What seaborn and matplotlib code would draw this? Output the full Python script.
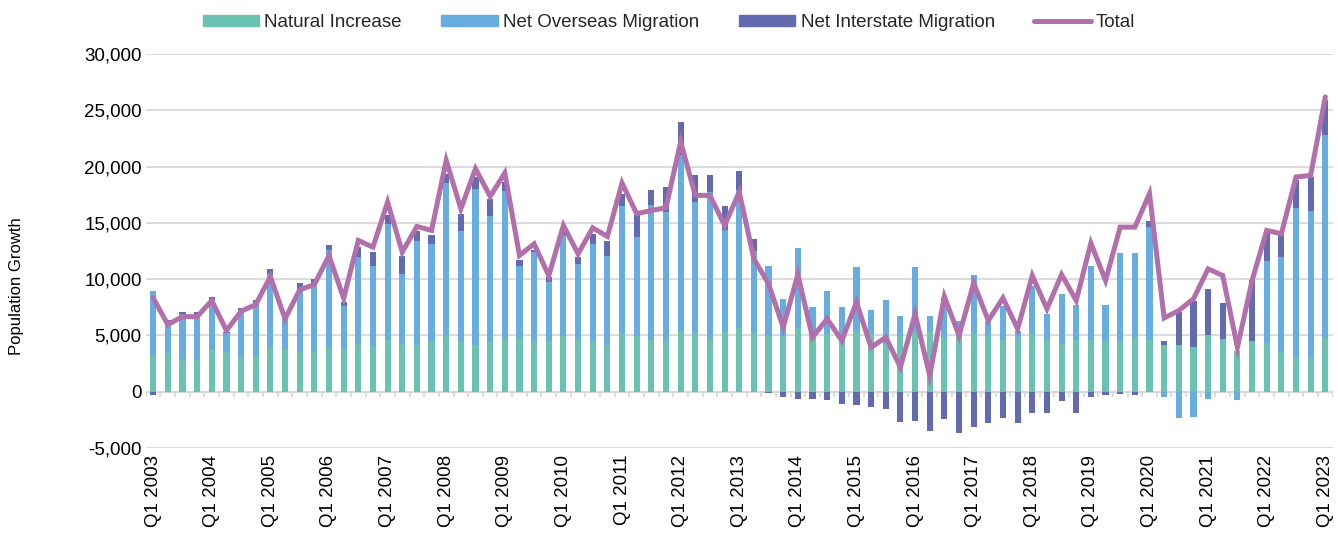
import numpy as np
import pandas as pd
import matplotlib
matplotlib.use("Agg")
import matplotlib.pyplot as plt
import matplotlib.ticker as mticker
import seaborn as sns

# ── DATA (quarterly, Q1 2003 – Q1 2023) ──────────────────────────────────────
years = list(range(2003, 2024))
quarters = [f"Q{q} {y}" for y in years for q in range(1, 5)][:81]

natural = [3290, 3410, 2820, 2850, 3770, 3500, 3110, 3200, 3940, 3770,
           3500, 3500, 4000, 3800, 4240, 4060, 4600, 4240, 4180, 4390,
           4980, 4480, 4180, 4390, 4780, 4780, 4480, 4480, 4980, 4690,
           4480, 4150, 5220, 4980, 4600, 4480, 5430, 5190, 4600, 5280,
           5640, 5220, 4920, 4980, 5640, 4830, 5130, 4300, 5430, 5130,
           4240, 4980, 5430, 5430, 4750, 4980, 5190, 5040, 4600, 4890,
           5130, 4600, 4240, 4600, 4600, 4480, 4450, 4750, 4600, 4150,
           4150, 3940, 5070, 4690, 3590, 4540, 4360, 3500, 3110, 3050,
           4750]

overseas = [5700, 2910, 4090, 4000, 4390, 1690, 4040, 4540, 6530, 2840,
            5640, 6020, 8550, 3850, 7710, 7150, 10320, 6230, 9170, 8690,
            13560, 9790, 13850, 11180, 13050, 6430, 7920, 5250, 8900, 6670,
            8660, 7920, 11240, 8750, 11950, 11480, 15570, 11660, 13140, 9050,
            12300, 7270, 6290, 3270, 7170, 2670, 3860, 3200, 5690, 2170,
            3920, 1780, 5690, 1330, 3700, 1340, 5220, 1280, 3050, 540,
            4300, 2310, 4450, 3140, 6610, 3260, 7890, 7590, 10020, -450,
            -2340, -2220, -650, 0, -740, 0, 7210, 8450, 13200, 13000,
            18030]

interstate = [-300, 50, 210, 250, 290, 100, 290, 420, 440, 150,
              500, 450, 440, 300, 890, 1190, 740, 1630, 890, 800,
              830, 1480, 1040, 1570, 800, 450, 150, 440, 300, 590,
              890, 1310, 1130, 1930, 1390, 2220, 2960, 2370, 1480, 2130,
              1640, 1040, -100, -500, -650, -650, -740, -1100, -1190, -1390,
              -1540, -2670, -2580, -3470, -2430, -3710, -3170, -2760, -2340, -2760,
              -1930, -1930, -860, -1930, -450, -270, -200, -270, 510, 330,
              2910, 4160, 4070, 3170, 0, 5340, 2610, 2080, 2460, 3020,
              3120]

total = [8330, 5960, 6670, 6670, 8100, 5430, 7150, 7740, 10230, 6470,
         9050, 9520, 12100, 8300, 13440, 12840, 16850, 12400, 14680, 14330,
         20550, 16250, 19810, 17350, 19430, 12100, 13140, 10300, 14770, 12250,
         14560, 13790, 18540, 15810, 16100, 16340, 22190, 17440, 17440, 14770,
         17740, 11800, 9580, 5720, 10410, 4830, 6470, 4540, 7950, 3940,
         4830, 2170, 6910, 1420, 8450, 4980, 9640, 6320, 8330, 5580,
         10320, 7360, 10410, 8100, 13200, 9880, 14620, 14620, 17590, 6550,
         7210, 8250, 10910, 10320, 3940, 9880, 14330, 14030, 19070, 19220,
         26190]

C_NAT = "#6BC1B2"
C_OVS = "#68ADE0"
C_INT = "#626AB0"
C_TOT = "#B16FAB"

df = pd.DataFrame({"quarter": quarters, "natural": natural, "overseas": overseas,
                   "interstate": interstate, "total": total})

# stacking (Excel style: positives stack up, negatives stack down)
o_pos = df["overseas"].clip(lower=0)
o_neg = df["overseas"].clip(upper=0)
i_pos = df["interstate"].clip(lower=0)
i_neg = df["interstate"].clip(upper=0)
df["int_top"] = df["natural"] + o_pos + i_pos
df["ovs_top"] = df["natural"] + o_pos
df["ovs_bot"] = o_neg
df["int_bot"] = o_neg + i_neg
df["pos"] = np.arange(len(df))

sns.set_theme(style="white")
plt.rcParams["font.family"] = ["Liberation Sans", "DejaVu Sans"]

fig = plt.figure(figsize=(13.38, 5.42), dpi=100)
ax = fig.add_axes([0.109, 0.1734, 0.887, 0.727])

# layered bars: draw outer extents first, inner ones over them
bw = 0.42
for col, c in [("int_top", C_INT), ("ovs_top", C_OVS), ("natural", C_NAT),
               ("int_bot", C_INT), ("ovs_bot", C_OVS)]:
    sns.barplot(data=df, x="quarter", y=col, order=quarters, color=c,
                saturation=1, width=bw, linewidth=0, ax=ax, zorder=2)

sns.lineplot(x=df["pos"], y=df["total"], color=C_TOT, lw=3.6, ax=ax, zorder=4,
             solid_joinstyle="miter")

ax.set_xlim(-0.5, len(df) - 0.5)
ax.set_ylim(-5000, 30000)
ax.set_yticks(range(-5000, 30001, 5000))
ax.yaxis.set_major_formatter(mticker.FuncFormatter(lambda v, _: f"{int(v):,}"))
ax.grid(axis="y", color="#D9D9D9", lw=1.3, zorder=0)
ax.set_axisbelow(True)
for s in ax.spines.values():
    s.set_visible(False)

# category axis line at zero with boundary tick marks
ax.axhline(0, color="#D9D9D9", lw=1.6, zorder=1)
ax.vlines(np.arange(-0.5, len(df)), -480, 0, color="#D9D9D9", lw=1.3, zorder=1)

ax.set_xticks(range(0, len(df), 4))
ax.set_xticklabels([quarters[i] for i in range(0, len(df), 4)], rotation=90,
                   fontsize=13.5, color="black")
ax.tick_params(axis="x", length=0, pad=5)
ax.tick_params(axis="y", length=0, pad=3, labelsize=13.5, labelcolor="black")
ax.set_xlabel("")
ax.set_ylabel("Population Growth", fontsize=12, color="black")
ax.yaxis.set_label_coords(-0.103, 0.41)

handles = [plt.Rectangle((0, 0), 1, 1, color=C_NAT),
           plt.Rectangle((0, 0), 1, 1, color=C_OVS),
           plt.Rectangle((0, 0), 1, 1, color=C_INT),
           plt.Line2D([0], [0], color=C_TOT, lw=3.6)]
fig.legend(handles, ["Natural Increase", "Net Overseas Migration",
                     "Net Interstate Migration", "Total"],
           loc="upper center", bbox_to_anchor=(0.5, 1.005), ncol=4, frameon=False,
           fontsize=13.5, handlelength=3.0, handleheight=0.55, handletextpad=0.3,
           columnspacing=2.1)

fig.savefig("out.png", dpi=100)
